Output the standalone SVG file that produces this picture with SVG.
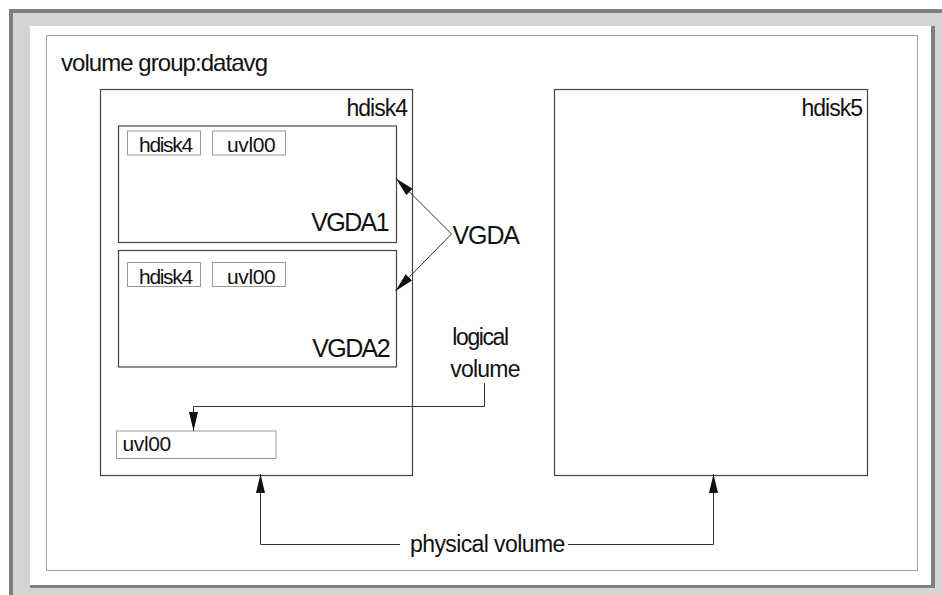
<svg xmlns="http://www.w3.org/2000/svg" width="942" height="595" viewBox="0 0 942 595">
  <style>
    .t { font-family: "Liberation Sans", Arial, sans-serif; fill: #111; }
    .big { stroke: #444; stroke-width: 1.2; fill: none; }
    .small { stroke: #9a9a9a; stroke-width: 1; fill: #fff; }
    .conn { stroke: #333; stroke-width: 1; fill: none; }
  </style>
  <defs>
    <marker id="arr" markerUnits="userSpaceOnUse" markerWidth="20" markerHeight="10" refX="19" refY="4.5" orient="auto">
      <path d="M0,0 L19,4.5 L0,9 z" fill="#111"/>
    </marker>
  </defs>

  <g id="frame">
    <rect x="0" y="0" width="942" height="595" fill="#fff"/>
    <rect x="9" y="9" width="933" height="586" fill="#d4d4d4"/>
    <rect x="9" y="9" width="933" height="4" fill="#808080"/>
    <rect x="9" y="9" width="4" height="586" fill="#808080"/>
    <rect x="30" y="26" width="901" height="559" fill="#fff"/>
    <rect x="931" y="26" width="4" height="562" fill="#808080"/>
    <rect x="30" y="585" width="905" height="3" fill="#808080"/>
    <rect x="46.5" y="35.5" width="871" height="535" fill="none" stroke="#a0a0a0" stroke-width="1"/>
  </g>

  <g id="title">
    <text class="t" x="61" y="70.5" font-size="24" textLength="207" lengthAdjust="spacing">volume group:datavg</text>
  </g>

  <g id="hdisk4">
    <rect class="big" x="100.5" y="89.5" width="312" height="386"/>
    <text class="t" x="407" y="115.5" font-size="23" text-anchor="end" letter-spacing="-1">hdisk4</text>
  </g>

  <g id="vgda1">
    <rect class="big" x="118.5" y="126" width="278" height="116.5"/>
    <rect class="small" x="127.5" y="131" width="73" height="24"/>
    <text class="t" x="139" y="152" font-size="21" letter-spacing="-1.3">hdisk4</text>
    <rect class="small" x="212.5" y="131" width="73" height="24"/>
    <text class="t" x="227" y="152" font-size="21" letter-spacing="-0.4" fill="#333">uvl00</text>
    <text class="t" x="388" y="230.5" font-size="25" text-anchor="end" letter-spacing="-1.6">VGDA1</text>
  </g>

  <g id="vgda2">
    <rect class="big" x="118.5" y="250.5" width="278" height="116.5"/>
    <rect class="small" x="127.5" y="262.5" width="73" height="24"/>
    <text class="t" x="139" y="283.5" font-size="21" letter-spacing="-1.3">hdisk4</text>
    <rect class="small" x="212.5" y="262.5" width="73" height="24"/>
    <text class="t" x="227" y="283.5" font-size="21" letter-spacing="-0.4" fill="#333">uvl00</text>
    <text class="t" x="389" y="356.5" font-size="25" text-anchor="end" letter-spacing="-1.6">VGDA2</text>
  </g>

  <g id="uvl00">
    <rect class="small" x="116.5" y="431" width="159.5" height="27.5"/>
    <text class="t" x="122.5" y="451" font-size="21" letter-spacing="-0.4" fill="#333">uvl00</text>
  </g>

  <g id="hdisk5">
    <rect class="big" x="554.5" y="89.5" width="313" height="386"/>
    <text class="t" x="862" y="115.5" font-size="23" text-anchor="end" letter-spacing="-1">hdisk5</text>
  </g>

  <g id="labels">
    <text class="t" x="452.5" y="243.5" font-size="25" letter-spacing="-1.1" fill="#333">VGDA</text>
    <text class="t" x="480" y="345" font-size="23" text-anchor="middle" letter-spacing="-1.4">logical</text>
    <text class="t" x="485" y="376.5" font-size="23" text-anchor="middle" letter-spacing="-0.8">volume</text>
    <text class="t" x="410" y="551.5" font-size="23" letter-spacing="-0.6">physical volume</text>
  </g>

  <g id="connectors">
    <line class="conn" x1="451.5" y1="234" x2="396" y2="178.5" marker-end="url(#arr)"/>
    <line class="conn" x1="451.5" y1="234" x2="395.5" y2="291" marker-end="url(#arr)"/>
    <polyline class="conn" points="484.5,383 484.5,406.5 193.5,406.5 193.5,431" marker-end="url(#arr)"/>
    <polyline class="conn" points="400,544.5 260.5,544.5 260.5,474" marker-end="url(#arr)"/>
    <polyline class="conn" points="568,544.5 713.5,544.5 713.5,474" marker-end="url(#arr)"/>
  </g>
</svg>
